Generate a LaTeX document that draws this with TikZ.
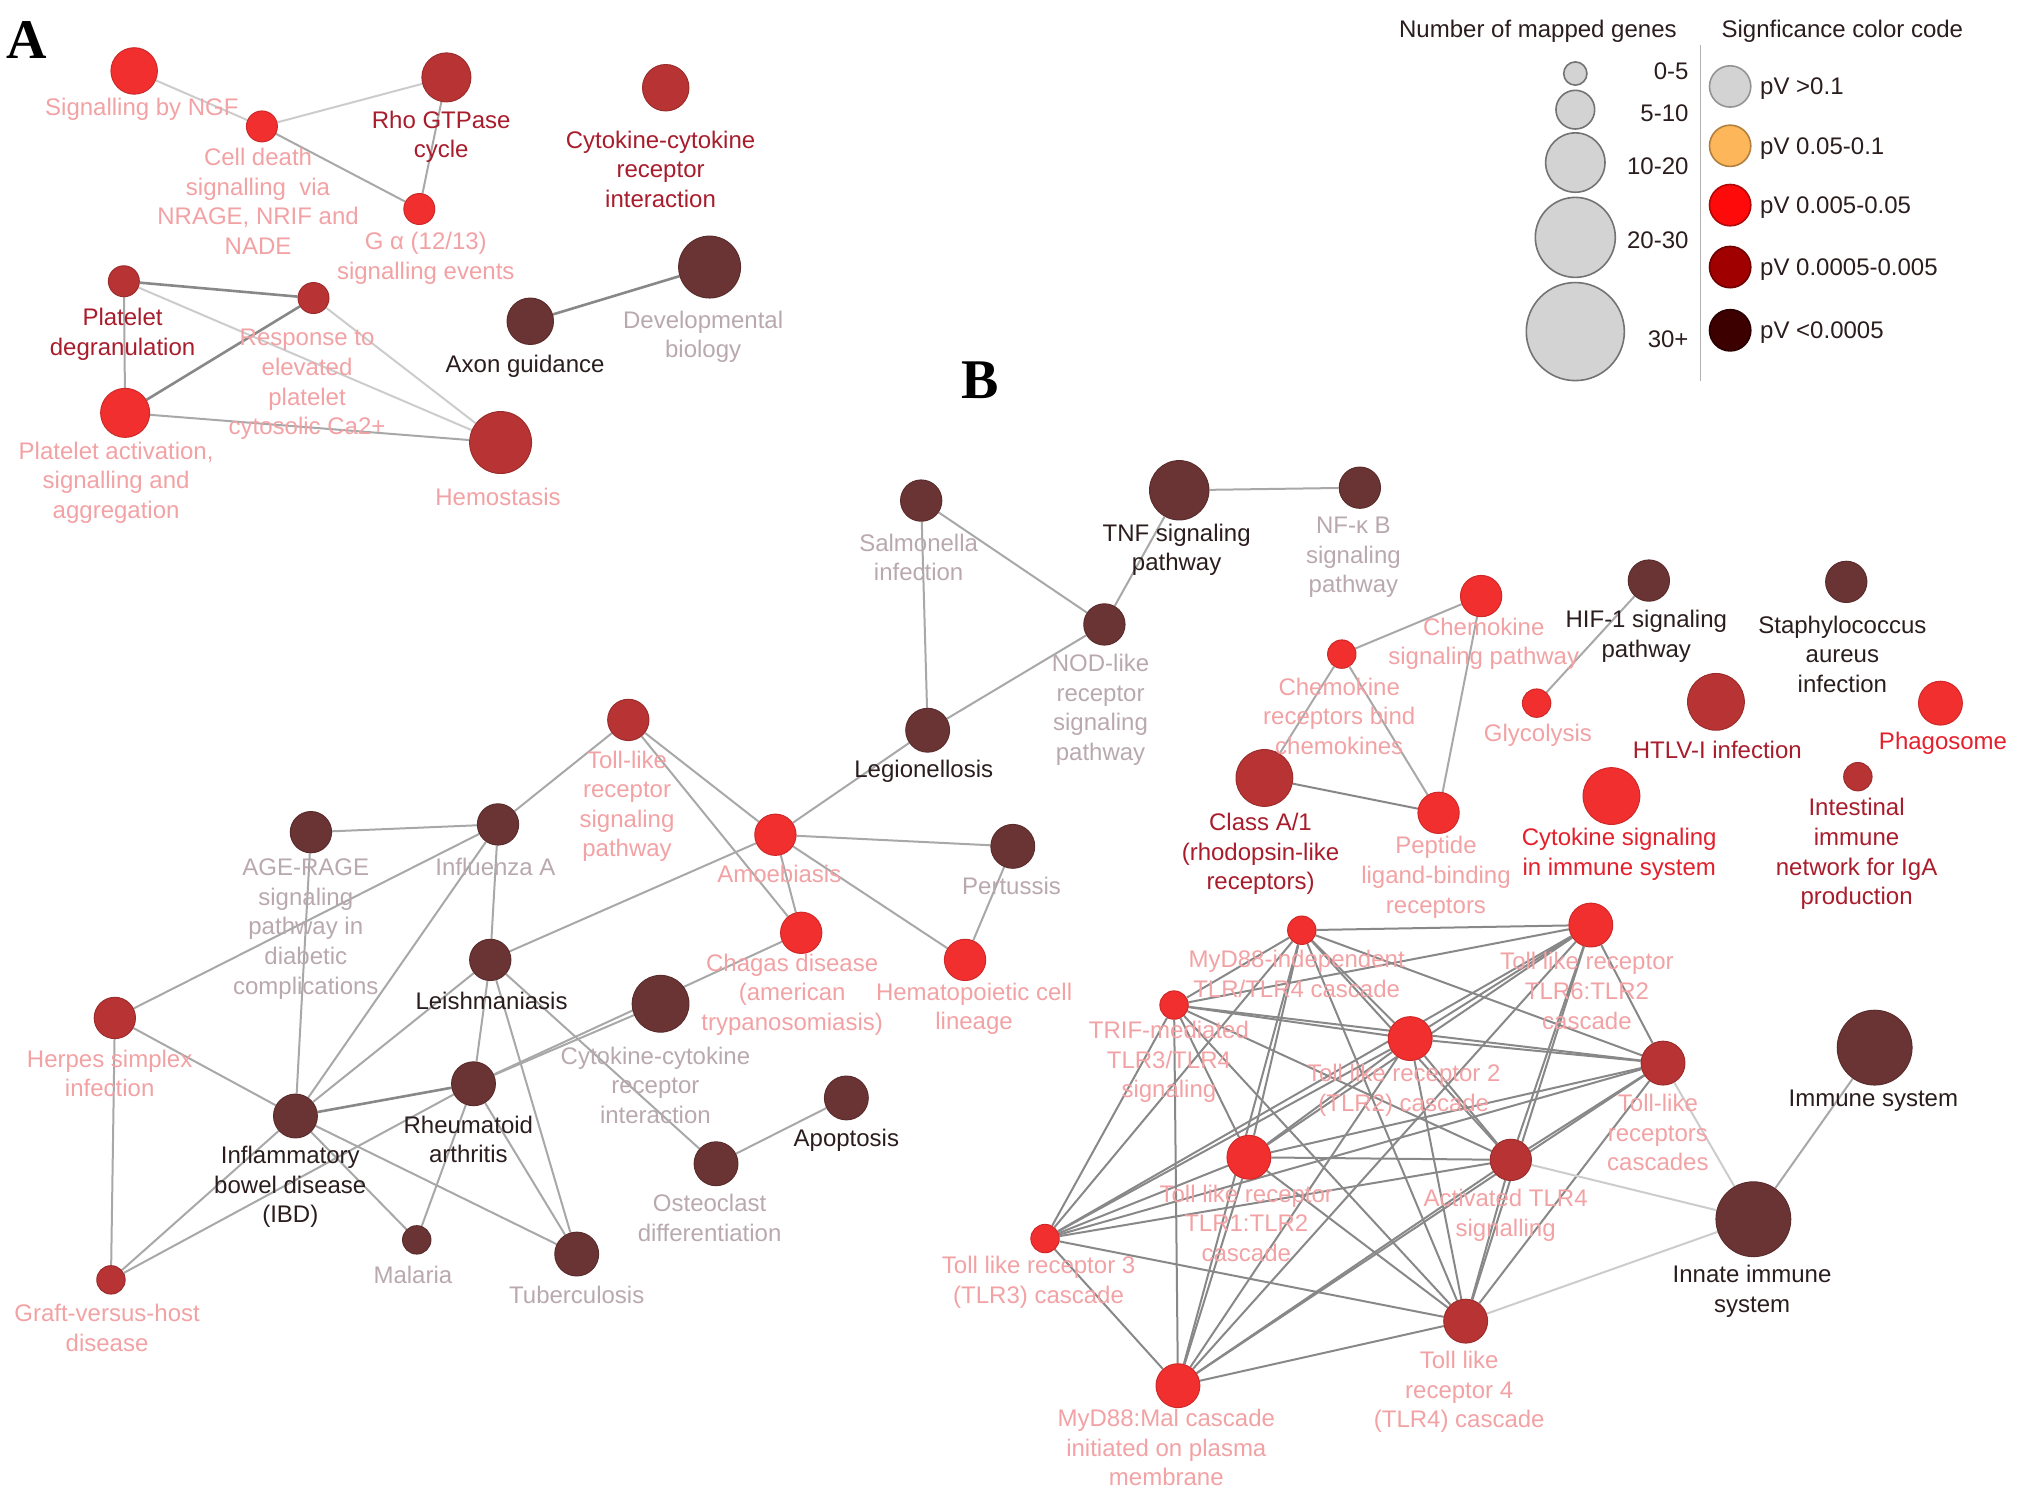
\documentclass[tikz,border=0pt]{standalone}
\usepackage{fontspec}
\setmainfont{Liberation Sans}
\newfontfamily\serifbf{Liberation Serif}
\usetikzlibrary{backgrounds}
\definecolor{cB}{HTML}{F22F2F}
\definecolor{cM}{HTML}{B83434}
\definecolor{cD}{HTML}{6B3434}
\definecolor{tP}{HTML}{F2A2A4}
\definecolor{tDR}{HTML}{A81C2C}
\definecolor{tR}{HTML}{E4202C}
\definecolor{tK}{HTML}{2B1D1D}
\definecolor{tG}{HTML}{B9A9AE}
\definecolor{eG}{HTML}{A8A8A8}
\definecolor{eL}{HTML}{CCCCCC}
\definecolor{eD}{HTML}{888888}
\definecolor{lgG}{HTML}{D3D3D3}
\definecolor{lgO}{HTML}{FDB65A}
\definecolor{lgR}{HTML}{FF0A0A}
\definecolor{lgDR}{HTML}{A00000}
\definecolor{lgVD}{HTML}{3C0000}
\begin{document}
\begin{tikzpicture}[x=0.6451pt,y=-0.6451pt,
  pn/.style={circle,inner sep=0pt,minimum size=#1*1.2902pt,line width=0.5pt},
  nb/.style={pn=#1,fill=cB,draw=cB!85!black},
  nm/.style={pn=#1,fill=cM,draw=cM!85!black},
  nd/.style={pn=#1,fill=cD,draw=cD!85!black},
  lg/.style={pn=#1,fill=lgG,draw=gray!90!black,line width=0.8pt},
  lc/.style={pn=16,fill=#1,draw=#1!70!black,line width=0.8pt},
  lab/.style={align=center,font=\fontsize{12}{14.8}\selectfont,inner sep=0pt,yshift=-1.3pt},
  ed/.style={draw=eG,line width=1pt},
  edl/.style={draw=eL,line width=1pt},
  edd/.style={draw=eD,line width=1.3pt},
  edt/.style={draw=eD,line width=1pt}]
\useasboundingbox (0,0) rectangle (1568,1159);
% ---------- Panel A ----------
\node[font=\serifbf\bfseries\fontsize{28}{30}\selectfont,inner sep=0pt] (labA) at (21,31) {A};
\node[nb=18] (ngf) at (104,55) {};
\node[nb=12] (cdeath) at (203,98) {};
\node[nm=19] (rho) at (346,60) {};
\node[nb=12] (galpha) at (325,162) {};
\node[nm=18] (cytA) at (516,68) {};
\node[nm=12] (pdeg) at (96,218) {};
\node[nm=12] (resp) at (243,231) {};
\node[nb=19] (pact) at (97,320) {};
\node[nm=24] (hemo) at (388,343) {};
\node[nd=18] (axon) at (411,249) {};
\node[nd=24] (devbio) at (550,207) {};
\node[lab,text=tP] (l-ngf) at (110,83) {Signalling by NGF};
\node[lab,text=tP] (l-cdeath) at (200,154) {Cell death\\signalling\ \ via\\NRAGE, NRIF and\\NADE};
\node[lab,text=tDR] (l-rho) at (342,104) {Rho GTPase\\cycle};
\node[lab,text=tP] (l-galpha) at (330,198) {G α (12/13)\\signalling events};
\node[lab,text=tDR] (l-cytA) at (512,129) {Cytokine-cytokine\\receptor\\interaction};
\node[lab,text=tDR] (l-pdeg) at (95,257) {Platelet\\degranulation};
\node[lab,text=tP] (l-resp) at (238,296) {Response to\\elevated\\platelet\\cytosolic Ca2+};
\node[lab,text=tP] (l-pact) at (90,372) {Platelet activation,\\signalling and\\aggregation};
\node[lab,text=tP] (l-hemo) at (386,383) {Hemostasis};
\node[lab,text=tK] (l-axon) at (407,282) {Axon guidance};
\node[lab,text=tG] (l-devbio) at (545,259) {Developmental\\biology};
% ---------- Legend ----------
\node[lab,text=tK] (lg-t1) at (1192,22) {Number of mapped genes};
\node[lab,text=tK] (lg-t2) at (1428,22) {Signficance color code};
\node[lg=9] (s1) at (1221,57) {};
\node[lg=15] (s2) at (1221,85) {};
\node[lg=23] (s3) at (1221,126) {};
\node[lg=31] (s4) at (1221,184) {};
\node[lg=38] (s5) at (1221,257) {};
\node[lab,text=tK,anchor=east] (ls1) at (1309,53) {0-5};
\node[lab,text=tK,anchor=east] (ls2) at (1309,86) {5-10};
\node[lab,text=tK,anchor=east] (ls3) at (1309,127) {10-20};
\node[lab,text=tK,anchor=east] (ls4) at (1309,184) {20-30};
\node[lab,text=tK,anchor=east] (ls5) at (1309,261) {30+};
\coordinate (sepT) at (1318,35);
\coordinate (sepB) at (1318,295);
\draw[draw=gray!60,line width=0.8pt] (sepT) -- (sepB);
\node[lc=lgG] (c1) at (1341,67) {};
\node[lc=lgO] (c2) at (1341,113) {};
\node[lc=lgR] (c3) at (1341,159) {};
\node[lc=lgDR] (c4) at (1341,207) {};
\node[lc=lgVD] (c5) at (1341,256) {};
\node[lab,text=tK,anchor=west] (lc1) at (1364,67) {pV >0.1};
\node[lab,text=tK,anchor=west] (lc2) at (1364,113) {pV 0.05-0.1};
\node[lab,text=tK,anchor=west] (lc3) at (1364,159) {pV 0.005-0.05};
\node[lab,text=tK,anchor=west] (lc4) at (1364,207) {pV 0.0005-0.005};
\node[lab,text=tK,anchor=west] (lc5) at (1364,256) {pV <0.0005};
% ---------- Panel B ----------
\node[font=\serifbf\bfseries\fontsize{28}{30}\selectfont,inner sep=0pt] (labB) at (760,295) {B};
\node[nd=16] (salm) at (714,388) {};
\node[nd=23] (tnf) at (914,380) {};
\node[nd=16] (nfkb) at (1054,378) {};
\node[nd=16] (nod) at (856,484) {};
\node[nd=17] (legio) at (719,566) {};
\node[nm=16] (tlrp) at (487,558) {};
\node[nb=16] (amoeb) at (601,647) {};
\node[nd=17] (pert) at (785,656) {};
\node[nd=16] (age) at (241,645) {};
\node[nd=16] (flu) at (386,639) {};
\node[nd=16] (leish) at (380,744) {};
\node[nb=16] (chagas) at (621,723) {};
\node[nb=16] (hemat) at (748,744) {};
\node[nd=22] (cytB) at (512,778) {};
\node[nm=16] (herpes) at (89,789) {};
\node[nd=17] (ibd) at (229,865) {};
\node[nd=17] (rheum) at (367,840) {};
\node[nd=17] (apop) at (656,851) {};
\node[nd=17] (osteo) at (555,902) {};
\node[nd=11] (malaria) at (323,961) {};
\node[nd=17] (tuber) at (447,972) {};
\node[nm=11] (graft) at (86,992) {};
\node[lab,text=tG] (l-salm) at (712,430) {Salmonella\\infection};
\node[lab,text=tK] (l-tnf) at (912,424) {TNF signaling\\pathway};
\node[lab,text=tG] (l-nfkb) at (1049,430) {NF-κ B\\signaling\\pathway};
\node[lab,text=tG] (l-nod) at (853,548) {NOD-like\\receptor\\signaling\\pathway};
\node[lab,text=tK] (l-legio) at (716,596) {Legionellosis};
\node[lab,text=tP] (l-tlrp) at (486,623) {Toll-like\\receptor\\signaling\\pathway};
\node[lab,text=tP] (l-amoeb) at (604,675) {Amoebiasis};
\node[lab,text=tG] (l-pert) at (784,685) {Pertussis};
\node[lab,text=tG] (l-age) at (237,718) {AGE-RAGE\\signaling\\pathway in\\diabetic\\complications};
\node[lab,text=tG] (l-flu) at (384,670) {Influenza A};
\node[lab,text=tK] (l-leish) at (381,774) {Leishmaniasis};
\node[lab,text=tP] (l-chagas) at (614,769) {Chagas disease\\(american\\trypanosomiasis)};
\node[lab,text=tP] (l-hemat) at (755,780) {Hematopoietic cell\\lineage};
\node[lab,text=tG] (l-cytB) at (508,839) {Cytokine-cytokine\\receptor\\interaction};
\node[lab,text=tP] (l-herpes) at (85,830) {Herpes simplex\\infection};
\node[lab,text=tK] (l-ibd) at (225,918) {Inflammatory\\bowel disease\\(IBD)};
\node[lab,text=tK] (l-rheum) at (363,881) {Rheumatoid\\arthritis};
\node[lab,text=tK] (l-apop) at (656,882) {Apoptosis};
\node[lab,text=tG] (l-osteo) at (550,942) {Osteoclast\\differentiation};
\node[lab,text=tG] (l-malaria) at (320,986) {Malaria};
\node[lab,text=tG] (l-tuber) at (447,1002) {Tuberculosis};
\node[lab,text=tP] (l-graft) at (83,1027) {Graft-versus-host\\disease};
% right cluster
\node[nb=16] (chsig) at (1148,462) {};
\node[nb=11] (chrec) at (1040,507) {};
\node[nd=16] (hif) at (1278,450) {};
\node[nd=16] (staph) at (1431,451) {};
\node[nb=11] (glyc) at (1191,545) {};
\node[nm=22] (htlv) at (1330,544) {};
\node[nb=17] (phago) at (1504,545) {};
\node[nm=22] (classA) at (980,603) {};
\node[nb=16] (pept) at (1115,630) {};
\node[nb=22] (cytsig) at (1249,617) {};
\node[nm=11] (intest) at (1440,602) {};
\node[lab,text=tP] (l-chsig) at (1150,497) {Chemokine\\signaling pathway};
\node[lab,text=tP] (l-chrec) at (1038,553) {Chemokine\\receptors bind\\chemokines};
\node[lab,text=tK] (l-hif) at (1276,491) {HIF-1 signaling\\pathway};
\node[lab,text=tK] (l-staph) at (1428,505) {Staphylococcus\\aureus\\infection};
\node[lab,text=tP] (l-glyc) at (1192,568) {Glycolysis};
\node[lab,text=tDR] (l-htlv) at (1331,579) {HTLV-I infection};
\node[lab,text=tR] (l-phago) at (1506,574) {Phagosome};
\node[lab,text=tDR] (l-classA) at (977,660) {Class A/1\\(rhodopsin-like\\receptors)};
\node[lab,text=tP] (l-pept) at (1113,678) {Peptide\\ligand-binding\\receptors};
\node[lab,text=tR] (l-cytsig) at (1255,660) {Cytokine signaling\\in immune system};
\node[lab,text=tDR] (l-intest) at (1439,660) {Intestinal\\immune\\network for IgA\\production};
% TLR cluster
\node[nb=11] (t1) at (1009,721) {};
\node[nb=17] (t2) at (1233,717) {};
\node[nb=11] (t3) at (910,779) {};
\node[nb=17] (t4) at (1093,805) {};
\node[nm=17] (t5) at (1289,824) {};
\node[nb=17] (t6) at (968,897) {};
\node[nm=16] (t7) at (1171,899) {};
\node[nb=11] (t8) at (810,960) {};
\node[nm=17] (t9) at (1136,1024) {};
\node[nb=17] (t10) at (913,1074) {};
\node[nd=29] (immune) at (1453,812) {};
\node[nd=29] (innate) at (1359,945) {};
\node[lab,text=tP] (l-t1) at (1005,753) {MyD88-independent\\TLR/TLR4 cascade};
\node[lab,text=tP] (l-t2) at (1230,766) {Toll like receptor\\TLR6:TLR2\\cascade};
\node[lab,text=tP] (l-t3) at (906,821) {TRIF-mediated\\TLR3/TLR4\\signaling};
\node[lab,text=tP] (l-t4) at (1088,843) {Toll like receptor 2\\(TLR2) cascade};
\node[lab,text=tP] (l-t5) at (1285,876) {Toll-like\\receptors\\cascades};
\node[lab,text=tP] (l-t6) at (966,946) {Toll like receptor\\TLR1:TLR2\\cascade};
\node[lab,text=tP] (l-t7) at (1167,940) {Activated TLR4\\signalling};
\node[lab,text=tP] (l-t8) at (805,992) {Toll like receptor 3\\(TLR3) cascade};
\node[lab,text=tP] (l-t9) at (1131,1077) {Toll like\\receptor 4\\(TLR4) cascade};
\node[lab,text=tP] (l-t10) at (904,1120) {MyD88:Mal cascade\\initiated on plasma\\membrane};
\node[lab,text=tK] (l-immune) at (1452,851) {Immune system};
\node[lab,text=tK] (l-innate) at (1358,999) {Innate immune\\system};
% ---------- Edges ----------
\begin{pgfonlayer}{background}
\draw[edl] (ngf) -- (cdeath);
\draw[edl] (cdeath) -- (rho);
\draw[ed] (cdeath) -- (galpha);
\draw[ed] (rho) -- (galpha);
\draw[edd] (pdeg) -- (resp);
\draw[ed] (pdeg) -- (pact);
\draw[edl] (pdeg) -- (hemo);
\draw[edd] (resp) -- (pact);
\draw[edl] (resp) -- (hemo);
\draw[ed] (pact) -- (hemo);
\draw[edd] (axon) -- (devbio);
%
\draw[ed] (salm) -- (legio);
\draw[ed] (salm) -- (nod);
\draw[ed] (tnf) -- (nod);
\draw[ed] (tnf) -- (nfkb);
\draw[ed] (nod) -- (legio);
\draw[ed] (legio) -- (amoeb);
\draw[ed] (tlrp) -- (flu);
\draw[ed] (tlrp) -- (amoeb);
\draw[ed] (tlrp) -- (chagas);
\draw[ed] (amoeb) -- (pert);
\draw[ed] (amoeb) -- (hemat);
\draw[ed] (amoeb) -- (leish);
\draw[ed] (amoeb) -- (chagas);
\draw[ed] (pert) -- (hemat);
\draw[ed] (age) -- (flu);
\draw[ed] (age) -- (ibd);
\draw[ed] (flu) -- (herpes);
\draw[ed] (flu) -- (leish);
\draw[ed] (flu) -- (ibd);
\draw[ed] (leish) -- (ibd);
\draw[ed] (leish) -- (rheum);
\draw[ed] (leish) -- (tuber);
\draw[ed] (leish) -- (osteo);
\draw[ed] (rheum) -- (cytB);
\draw[ed] (rheum) -- (chagas);
\draw[ed] (herpes) -- (ibd);
\draw[ed] (herpes) -- (graft);
\draw[edd] (ibd) -- (rheum);
\draw[ed] (ibd) -- (malaria);
\draw[ed] (ibd) -- (tuber);
\draw[ed] (ibd) -- (graft);
\draw[ed] (rheum) -- (graft);
\draw[ed] (rheum) -- (malaria);
\draw[ed] (rheum) -- (tuber);
\draw[ed] (osteo) -- (apop);
%
\draw[ed] (chsig) -- (chrec);
\draw[ed] (chsig) -- (pept);
\draw[ed] (chrec) -- (pept);
\draw[ed] (chrec) -- (classA);
\draw[edt] (classA) -- (pept);
\draw[ed] (hif) -- (glyc);
%
\foreach [count=\i] \a in {t1,t2,t3,t4,t5,t6,t7,t8,t9,t10}{
  \foreach [count=\j] \b in {t1,t2,t3,t4,t5,t6,t7,t8,t9,t10}{
    \ifnum\j>\i \draw[edt] (\a) -- (\b); \fi
  }
}
\draw[ed] (innate) -- (immune);
\draw[edl] (innate) -- (t5);
\draw[edl] (innate) -- (t7);
\draw[edl] (innate) -- (t9);
\end{pgfonlayer}
\end{tikzpicture}
\end{document}
